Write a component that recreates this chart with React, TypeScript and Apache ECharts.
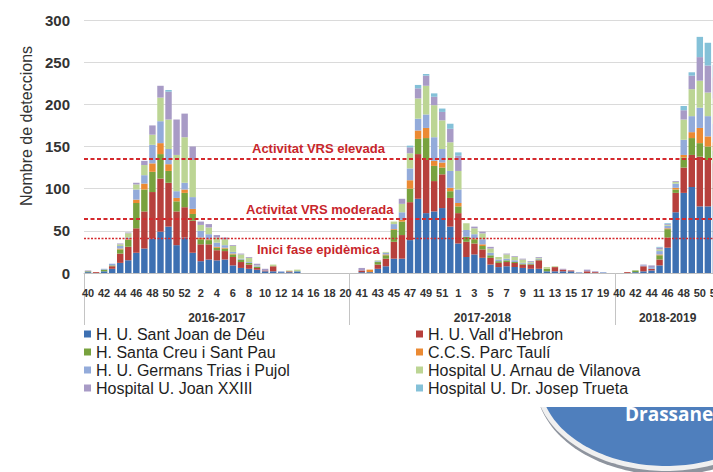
import React, { useEffect, useRef } from 'react';
import * as echarts from 'echarts';

// Week labels per season
const weeks1617 = ['40','41','42','43','44','45','46','47','48','49','50','51','52','1','2','3','4','5','6','7','8','9','10','11','12','13','14','15','16','17','18','19','20'];
const weeks1718 = ['40','41','42','43','44','45','46','47','48','49','50','51','52','1','2','3','4','5','6','7','8','9','10','11','12','13','14','15','16','17','18','19','20'];
const weeks1819 = ['40','41','42','43','44','45','46','47','48','49','50','51','52'];
const seasons = ['2016-2017', '2017-2018', '2018-2019'];

const hospitals = [
  'H. U. Sant Joan de Déu',
  "H. U. Vall d'Hebron",
  'H. Santa Creu i Sant Pau',
  'C.C.S. Parc Taulí',
  'H. U. Germans Trias i Pujol',
  'Hospital U. Arnau de Vilanova',
  'Hospital U. Joan XXIII',
  'Hospital U. Dr. Josep Trueta',
];
const colors = ['#3d70b2', '#b7403c', '#78a23e', '#eb8a33', '#93abda', '#bcd594', '#a89bc6', '#84c1d8'];

const santJoanDeDeu = [
  1,0,2,5,12,15,24,29,41,49,55,33,42,24,14,16,15,16,9,6,5,4,2,2,1,1,2,0,0,0,0,0,0,
  0,1,1,5,8,17,17,39,88,71,73,77,55,35,19,22,18,10,7,8,7,6,5,5,2,2,2,2,0,0,0,0,0,
  0,0,1,2,3,9,30,72,95,102,79,79,80,
];
const vallHebron = [
  0,1,0,3,11,16,29,44,55,63,52,40,36,38,20,18,12,10,10,7,5,2,1,6,0,1,0,0,0,0,0,0,0,
  0,2,0,5,9,20,28,45,53,63,36,40,34,36,18,13,10,8,5,5,5,4,5,10,0,5,2,1,0,2,1,0,0,
  0,1,0,6,2,7,12,23,30,38,59,55,50,
];
const santaCreu = [
  1,0,2,1,5,8,30,26,24,29,14,12,17,8,6,5,3,3,3,3,2,1,0,0,0,0,0,0,0,0,0,0,0,
  0,0,0,3,4,14,16,16,18,26,18,8,8,8,6,5,4,3,2,2,1,1,1,1,3,0,0,0,0,0,0,0,0,
  0,0,2,0,0,5,10,4,12,20,16,16,15,
];
const parcTauli = [
  0,0,0,0,1,1,4,7,10,13,8,4,4,6,2,1,1,1,1,0,0,0,0,0,0,0,0,0,0,0,0,0,0,
  0,0,3,0,1,1,2,10,10,12,6,6,4,4,0,1,2,0,0,0,0,0,0,0,0,0,0,0,0,0,0,0,0,
  0,0,0,0,0,1,1,2,3,7,18,12,10,
];
const germansTrias = [
  0,0,1,2,3,2,12,10,22,26,18,8,8,14,8,6,5,3,2,1,1,1,0,0,1,0,0,0,0,0,0,0,0,
  0,0,0,1,2,6,9,14,14,16,28,16,20,16,8,5,6,3,2,2,2,1,1,1,0,0,0,0,1,0,0,1,0,
  0,0,0,1,2,4,3,5,18,19,24,24,22,
];
const arnauVilanova = [
  0,0,0,0,2,5,6,12,12,28,35,43,54,44,7,8,6,7,7,5,5,1,0,2,0,1,2,0,0,0,0,0,0,
  0,0,0,1,1,3,10,18,24,34,38,34,34,22,8,7,7,5,3,5,4,4,1,1,2,1,0,0,0,0,0,0,0,
  0,0,0,0,0,2,1,2,24,32,32,28,30,
];
const joanXXIII = [
  1,0,0,0,1,1,2,5,11,14,33,42,28,16,4,4,3,2,1,1,1,2,2,0,0,0,0,0,0,0,0,0,0,
  0,3,0,0,0,0,6,7,12,12,10,10,16,18,0,2,2,2,0,1,1,1,1,1,0,0,1,0,0,2,1,0,0,
  0,0,0,1,2,2,1,1,11,16,28,32,25,
];
const josepTrueta = [
  0,0,0,0,0,0,0,0,0,0,2,0,0,0,0,0,0,0,0,0,0,0,0,0,0,0,0,0,0,0,0,0,0,
  0,0,0,0,0,0,0,2,4,2,4,4,6,4,0,0,0,0,0,0,0,0,0,0,0,0,0,0,0,0,0,0,0,
  0,0,0,0,0,1,1,0,5,4,24,27,15,
];
const seriesValues = [santJoanDeDeu, vallHebron, santaCreu, parcTauli, germansTrias, arnauVilanova, joanXXIII, josepTrueta];

const thresholdValues = [136, 64, 41];
const thresholdNames = ['Activitat VRS elevada', 'Activitat VRS moderada', 'Inici fase epidèmica'];

const FONT = '"Liberation Sans", Arial, sans-serif';

function lowerArc(cx: number, cy: number, rx: number, ry: number, clipY: number, steps = 80) {
  const s = Math.max(-1, Math.min(1, (clipY - cy) / ry));
  const a = Math.asin(s);
  const b = Math.PI - a;
  const pts: number[][] = [];
  for (let k = 0; k <= steps; k++) {
    const t = a + ((b - a) * k) / steps;
    pts.push([cx + rx * Math.cos(t), cy + ry * Math.sin(t)]);
  }
  return pts;
}

export default function App() {
  const ref = useRef<HTMLDivElement>(null);
  useEffect(() => {
    const chart = echarts.init(ref.current!, null, { renderer: 'svg' });
    const categories = [...weeks1617, ...weeks1718, ...weeks1819];
    const seasonLengths = [weeks1617.length, weeks1718.length, weeks1819.length];
    const seasonStarts: number[] = [];
    let acc = 0;
    seasonLengths.forEach((l) => { seasonStarts.push(acc); acc += l; });
    const seasonLabelIdx = seasonStarts.map((s, k) => s + Math.floor(seasonLengths[k] / 2));
    const seasonAxisData = categories.map((_, i) => {
      const k = seasonLabelIdx.indexOf(i);
      return k >= 0 ? seasons[k] : '';
    });
    const band = 8.05;
    const gridLeft = 84;

    const labelDx = [168, 162, 173];
    const markData = thresholdValues.map((v, k) => ({
      yAxis: v,
      name: thresholdNames[k],
      lineStyle: k < 2
        ? { color: '#d42a2e', width: 2, type: [4, 2.5] }
        : { color: '#d42a2e', width: 1.3, type: [2, 1.5] },
      label: {
        show: true,
        position: k < 2 ? 'insideStartTop' : 'insideStartBottom',
        distance: [labelDx[k], k < 2 ? 3 : 5],
        formatter: '{b}',
        color: '#c8262b',
        fontWeight: 'bold',
        fontSize: 13,
        fontFamily: FONT,
      },
    }));

    const series = hospitals.map((name, k) => ({
      name,
      type: 'bar',
      stack: 'total',
      barCategoryGap: '20%',
      itemStyle: { color: colors[k] },
      data: seriesValues[k],
      ...(k === hospitals.length - 1
        ? { markLine: { silent: true, symbol: ['none', 'none'], data: markData } }
        : {}),
    }));

    const cx = 666, cy = 380, rx = 126, ry = 86, clipY = 407;

    chart.setOption({
      animation: false,
      color: colors,
      grid: { left: gridLeft, top: 20, width: categories.length * band, height: 253, outerBoundsMode: 'none' },
      xAxis: [
        {
          type: 'category',
          data: categories,
          axisLine: { lineStyle: { color: '#bfbfbf', width: 1 } },
          axisTick: {
            show: true,
            interval: (i: number) => seasonStarts.indexOf(i) >= 0,
            length: 52,
            lineStyle: { color: '#c4c4c4' },
          },
          axisLabel: { interval: 1, margin: 14, fontSize: 11, fontWeight: 'bold', color: '#333', fontFamily: FONT },
        },
        {
          type: 'category',
          data: seasonAxisData,
          position: 'bottom',
          offset: 31,
          axisLine: { show: false },
          axisTick: { show: false },
          axisLabel: { interval: 0, fontSize: 12, fontWeight: 'bold', color: '#333', fontFamily: FONT },
        },
      ],
      yAxis: {
        type: 'value',
        min: 0,
        max: 300,
        interval: 50,
        axisLine: { show: false },
        axisTick: { show: false },
        splitLine: { lineStyle: { color: '#dadada' } },
        axisLabel: { margin: 14, fontSize: 15, fontWeight: 'bold', color: '#333', fontFamily: FONT },
      },
      legend: [
        {
          data: [hospitals[0], hospitals[2], hospitals[4], hospitals[6]],
          orient: 'vertical',
          left: 84,
          top: 326,
          itemWidth: 7,
          itemHeight: 7,
          itemGap: 2,
          icon: 'rect',
          padding: 0,
          textStyle: { fontSize: 16, color: '#1e1e1e', fontFamily: FONT },
        },
        {
          data: [hospitals[1], hospitals[3], hospitals[5], hospitals[7]],
          orient: 'vertical',
          left: 416,
          top: 326,
          itemWidth: 7,
          itemHeight: 7,
          itemGap: 2,
          icon: 'rect',
          padding: 0,
          textStyle: { fontSize: 16, color: '#1e1e1e', fontFamily: FONT },
        },
      ],
      graphic: [
        {
          type: 'text',
          x: 26,
          y: 126,
          rotation: Math.PI / 2,
          style: {
            text: 'Nombre de deteccions',
            fill: '#333',
            font: `16px ${FONT}`,
            align: 'center',
            verticalAlign: 'middle',
          },
        },
        {
          type: 'polygon',
          shape: { points: lowerArc(cx + 2, cy + 3, rx + 6, ry + 6, clipY) },
          style: { fill: '#8e949e' },
        },
        {
          type: 'polygon',
          shape: { points: lowerArc(cx, cy, rx + 5, ry + 5, clipY) },
          style: { fill: '#f0f0f0' },
        },
        {
          type: 'polygon',
          shape: { points: lowerArc(cx, cy, rx, ry, clipY) },
          style: { fill: '#4f7fbd' },
        },
        {
          type: 'text',
          x: 625,
          y: 423,
          style: {
            text: 'Drassanes',
            fill: '#ffffff',
            font: 'bold 19px "Open Sans", sans-serif',
            verticalAlign: 'bottom',
          },
        },
      ],
      series,
    });
    return () => chart.dispose();
  }, []);
  return (
    <div style={{ position: 'absolute', left: 0, top: 0, width: 713, height: 472, overflow: 'hidden', background: '#fff' }}>
      <div ref={ref} style={{ width: 760, height: 472 }} />
    </div>
  );
}
